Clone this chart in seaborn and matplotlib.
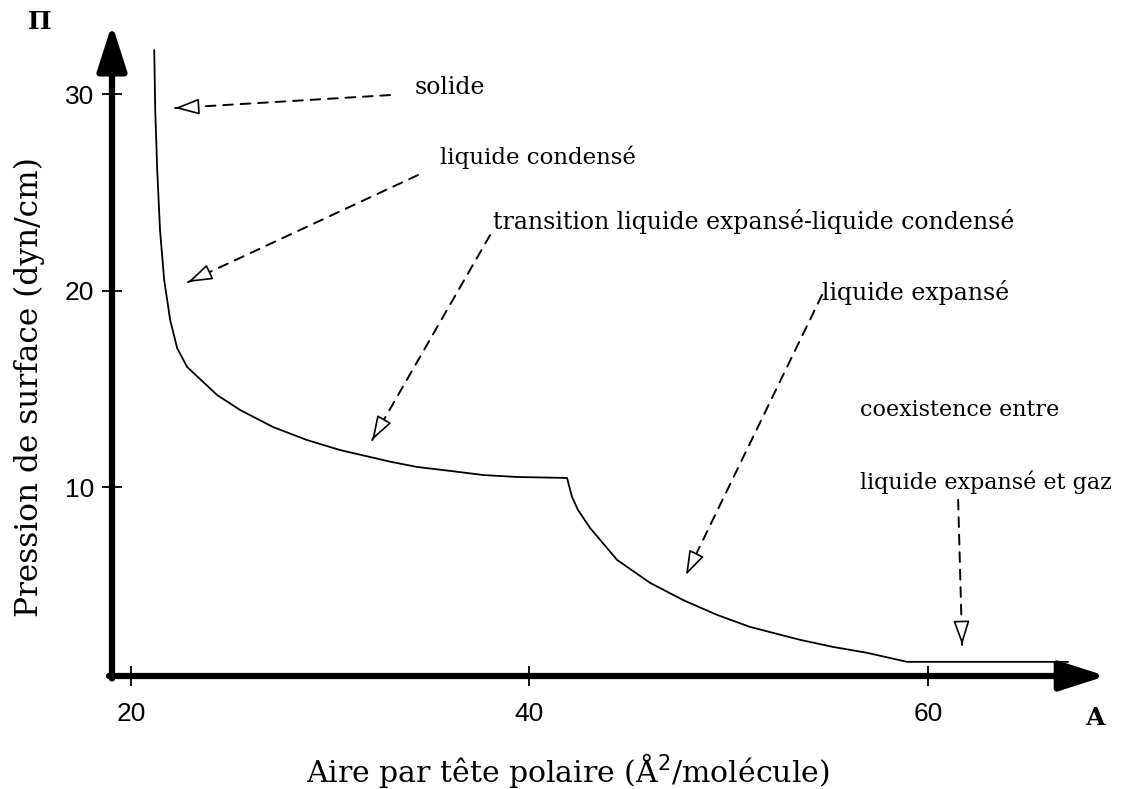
import matplotlib
matplotlib.use("Agg")
import matplotlib.pyplot as plt
import seaborn as sns
import pandas as pd

# ---- data ----
area = [21.17, 21.22, 21.32, 21.46, 21.67, 21.97, 22.32, 22.82, 24.33, 25.48,
        27.14, 28.84, 30.50, 33.01, 34.36, 36.02, 37.68, 39.38, 41.89, 42.14,
        42.44, 43.05, 44.40, 46.06, 47.71, 49.42, 51.07, 53.59, 55.24, 56.95,
        58.96, 67.04]
pressure = [32.25, 29.20, 26.14, 23.09, 20.54, 18.51, 17.08, 16.12, 14.69, 13.93,
            13.06, 12.40, 11.89, 11.30, 11.03, 10.83, 10.62, 10.52, 10.47, 9.50,
            8.84, 7.92, 6.30, 5.13, 4.26, 3.50, 2.89, 2.23, 1.87, 1.57,
            1.11, 1.11]
x_ticks = [20, 40, 60]
y_ticks = [10, 20, 30]
labels = ["solide", "liquide condensé",
          "transition liquide expansé-liquide condensé",
          "liquide expansé", "coexistence entre", "liquide expansé et gaz"]

df = pd.DataFrame({"area": area, "pressure": pressure})

sns.set_theme(style="white")
plt.rcParams["font.family"] = ["DejaVu Sans"]
plt.rcParams["text.color"] = "black"
plt.rcParams["xtick.color"] = "black"
plt.rcParams["ytick.color"] = "black"

fig = plt.figure(figsize=(11.33, 7.89), dpi=100)
ax = fig.add_axes([0.09885, 0.14322, 0.87026, 0.81622])
XMIN, XMAX = 19.05, 68.54
YMIN, YMAX = 0.39, 33.17
ax.set_xlim(XMIN, XMAX)
ax.set_ylim(YMIN, YMAX)

sns.lineplot(data=df, x="area", y="pressure", ax=ax, color="black",
             linewidth=1.3, sort=False, estimator=None)

for s in ax.spines.values():
    s.set_visible(False)

# axes with arrows
arrow_kw = dict(arrowstyle="-|>,head_length=1.4,head_width=0.45",
                mutation_scale=20, lw=4.5, color="black", shrinkA=0, shrinkB=0)
ax.annotate("", xy=(1.008, 0.0), xytext=(-0.003, 0.0), xycoords="axes fraction",
            textcoords="axes fraction", arrowprops=arrow_kw, annotation_clip=False)
ax.annotate("", xy=(0.0, 1.012), xytext=(0.0, -0.004), xycoords="axes fraction",
            textcoords="axes fraction", arrowprops=arrow_kw, annotation_clip=False)

ax.set_xticks(x_ticks)
ax.set_yticks(y_ticks)
ax.set_xticklabels([str(v) for v in x_ticks], family="Liberation Sans", fontsize=19)
ax.set_yticklabels([str(v) for v in y_ticks], family="Liberation Sans", fontsize=19)
ax.tick_params(axis="both", direction="inout", length=14, width=1.3,
               color="black", bottom=True, left=True)
ax.tick_params(axis="x", pad=12)
ax.tick_params(axis="y", pad=6)
ax.set_xlabel("")
ax.set_ylabel("")

fig.text(0.026, 0.509, "Pression de surface (dyn/cm)", rotation=90,
         ha="center", va="center", family="DejaVu Serif", fontsize=22.5)
fig.text(0.501, 0.024, "Aire par tête polaire (Å$^2$/molécule)",
         ha="center", va="center", family="DejaVu Serif", fontsize=21.5)
fig.text(0.0353, 0.972, "Π", ha="center", va="center", family="DejaVu Serif",
         fontsize=18, fontweight="bold")
fig.text(0.9665, 0.09, "A", ha="center", va="center", family="DejaVu Serif",
         fontsize=18, fontweight="bold")

# annotation text positions (data coords) and sizes
text_pos = [(34.26, 30.32), (35.52, 26.80), (38.18, 23.50), (54.69, 19.93),
            (56.59, 13.93), (56.59, 10.27)]
text_size = [17, 16.5, 17, 17, 16, 16]
for lab, tpos, fs in zip(labels, text_pos, text_size):
    ax.text(tpos[0], tpos[1], lab, ha="left", va="center",
            family="DejaVu Serif", fontsize=fs)

# arrows: (start, tip)
arrows = [
    ((33.01, 29.96), (22.22, 29.30)),
    ((34.41, 25.89), (22.87, 20.44)),
    ((38.03, 22.84), (32.11, 12.40)),
    ((54.69, 19.79), (47.86, 5.53)),
    ((61.52, 9.36), (61.72, 1.97)),
]
for start, tip in arrows:
    ax.annotate("", xy=tip, xytext=start,
                arrowprops=dict(arrowstyle="-", linestyle=(0, (5, 4)),
                                lw=1.4, color="black", shrinkA=0, shrinkB=0))
    fx = start[0] + (tip[0] - start[0]) * 0.95
    fy = start[1] + (tip[1] - start[1]) * 0.95
    ax.annotate("", xy=tip, xytext=(fx, fy),
                arrowprops=dict(arrowstyle="-|>,head_length=0.75,head_width=0.25",
                                mutation_scale=20, lw=1.2, fc="white",
                                ec="black", shrinkA=0, shrinkB=0))

fig.savefig("out.png", dpi=100, facecolor="white")
